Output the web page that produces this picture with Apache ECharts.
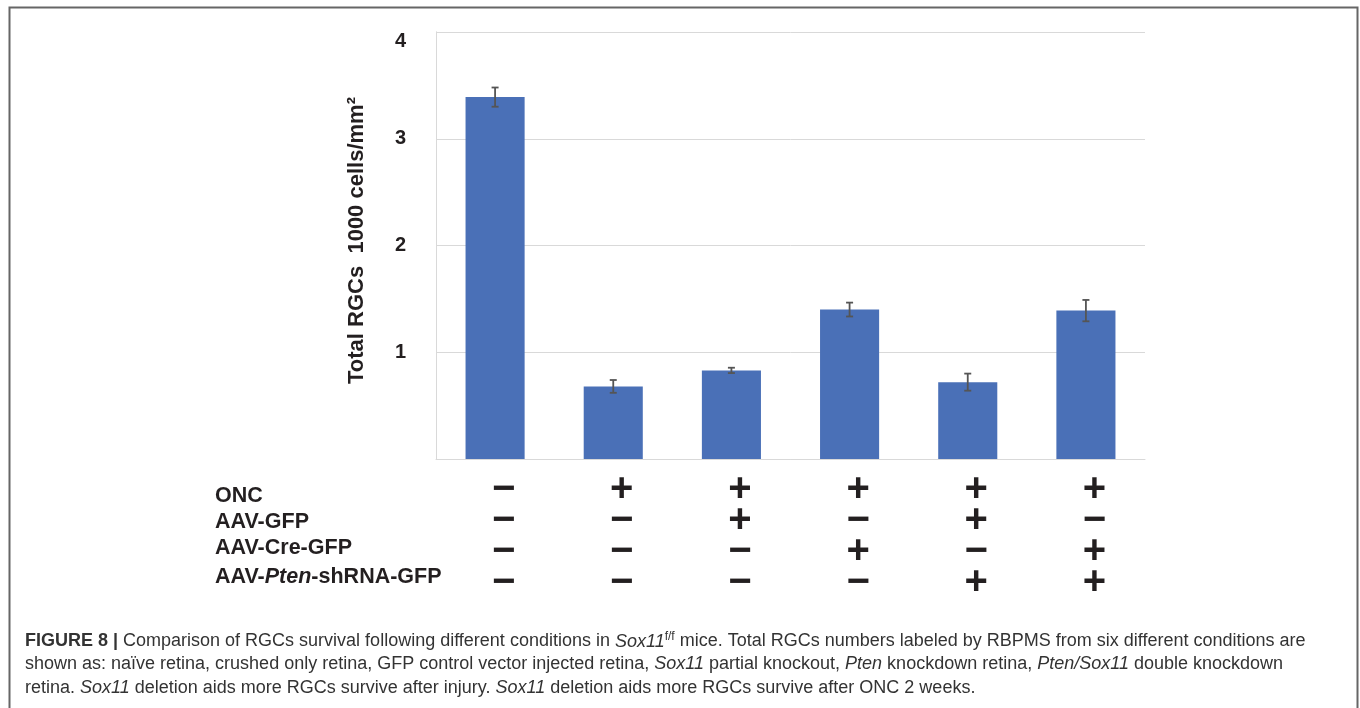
<!DOCTYPE html>
<html>
<head>
<meta charset="utf-8">
<title>Figure 8</title>
<script src="https://cdn.jsdelivr.net/npm/echarts@6/dist/echarts.min.js"></script>
<style>
  html, body { margin: 0; padding: 0; background: #fff; }
  #main { width: 1360px; height: 708px; }
</style>
</head>
<body>
<div id="main"></div>
<script type="text/javascript">
    // 数据
    var categories = ['naive', 'ONC', 'ONC GFP', 'ONC Cre', 'ONC GFP shPten', 'ONC Cre shPten'];
    var rgcMeans = [3.39, 0.68, 0.83, 1.40, 0.72, 1.39];
    var rgcErrors = [0.09, 0.06, 0.025, 0.065, 0.08, 0.10];
    var yTicks = [0, 1, 2, 3, 4];

    var rowNames = ['ONC', 'AAV-GFP', 'AAV-Cre-GFP', 'AAV-{i|Pten}-shRNA-GFP'];
    var rowOnc = ['−', '+', '+', '+', '+', '+'];
    var rowGfp = ['−', '−', '+', '−', '+', '−'];
    var rowCre = ['−', '−', '−', '+', '−', '+'];
    var rowPten = ['−', '−', '−', '−', '+', '+'];

    var captionLines = [
        '{b|FIGURE 8 |} Comparison of RGCs survival following different conditions in {i|Sox11}{sup|f/f} mice. Total RGCs numbers labeled by RBPMS from six different conditions are',
        'shown as: naïve retina, crushed only retina, GFP control vector injected retina, {i|Sox11} partial knockout, {i|Pten} knockdown retina, {i|Pten/Sox11} double knockdown',
        'retina. {i|Sox11} deletion aids more RGCs survive after injury. {i|Sox11} deletion aids more RGCs survive after ONC 2 weeks.'
    ];

    var font = "'Liberation Sans', Arial, Helvetica, sans-serif";

    var errData = [];
    for (var i = 0; i < rgcMeans.length; i++) {
        errData.push([i, rgcMeans[i] - rgcErrors[i], rgcMeans[i] + rgcErrors[i]]);
    }

    // 边框 + 行标题 + 图注
    var graphics = [{
        type: 'rect', left: 7, top: 5, silent: true,
        shape: { width: 1348, height: 720 },
        style: { fill: 'none', stroke: '#666', lineWidth: 2 }
    }];
    var rowY = [497, 523, 549, 578];
    rowNames.forEach(function (name, k) {
        graphics.push({
            type: 'text', left: 215, top: rowY[k] - 12,
            style: {
                text: name, fontFamily: font, fontSize: 21.5, fontWeight: 'bold', fill: '#231f20',
                rich: { i: { fontFamily: font, fontSize: 21.5, fontWeight: 'bold', fontStyle: 'italic', fill: '#231f20' } }
            }
        });
    });
    var capY = [641, 665, 689];
    captionLines.forEach(function (line, k) {
        graphics.push({
            type: 'text', left: 25, top: capY[k] - 10,
            style: {
                text: line, fontFamily: font, fontSize: 18, fill: '#333',
                rich: {
                    b: { fontFamily: font, fontSize: 18, fontWeight: 'bold', fill: '#333' },
                    i: { fontFamily: font, fontSize: 18, fontStyle: 'italic', fill: '#333' },
                    sup: { fontFamily: font, fontSize: 12, fill: '#333', verticalAlign: 'top', padding: [0, 0, 9, 0] }
                }
            }
        });
    });

    var myChart = echarts.init(document.getElementById('main'));
    var option = {
        animation: false,
        backgroundColor: '#fff',
        grid: { left: 436, right: 215, top: 32, bottom: 249 },
        xAxis: {
            type: 'category',
            data: categories,
            axisLine: { lineStyle: { color: '#d9d9d9', width: 1 } },
            axisTick: { show: false },
            axisLabel: {
                interval: 0,
                margin: 15,
                padding: [0, 0, 0, 17],
                fontFamily: font,
                fontSize: 40,
                fontWeight: 'bold',
                color: '#231f20',
                lineHeight: 31,
                formatter: function (value, idx) {
                    return [rowOnc[idx], rowGfp[idx], rowCre[idx], rowPten[idx]].join('\n');
                }
            }
        },
        yAxis: [{
            type: 'value',
            min: yTicks[0],
            max: yTicks[yTicks.length - 1],
            interval: 1,
            name: 'Total RGCs  1000 cells/mm²',
            nameLocation: 'middle',
            nameGap: 68,
            nameTextStyle: { fontFamily: font, fontSize: 22, fontWeight: 'bold', color: '#231f20', padding: [0, 0, 0, 10] },
            axisLine: { show: true, lineStyle: { color: '#d9d9d9' } },
            axisTick: { show: false },
            splitLine: { lineStyle: { color: '#d9d9d9', width: 1 } },
            axisLabel: {
                margin: 30,
                fontFamily: font,
                fontSize: 20,
                fontWeight: 'bold',
                color: '#231f20',
                formatter: function (v) {
                    if (v === 0) return '';
                    if (v === yTicks[yTicks.length - 1]) return '{top|' + v + '}';
                    return String(v);
                },
                rich: {
                    top: { fontFamily: font, fontSize: 20, fontWeight: 'bold', color: '#231f20', padding: [18, 0, 0, 0] }
                }
            }
        }, {
            type: 'value',
            min: 0,
            max: 4.065,
            position: 'left',
            axisLine: { show: true, lineStyle: { color: '#d9d9d9' } },
            axisTick: { show: false },
            axisLabel: { show: false },
            splitLine: { show: false }
        }],
        series: [{
            type: 'bar',
            data: rgcMeans,
            barWidth: '50%',
            itemStyle: { color: '#4a70b7' }
        }, {
            type: 'custom',
            data: errData,
            z: 5,
            renderItem: function (params, api) {
                var x = api.value(0);
                var lo = api.coord([x, api.value(1)]);
                var hi = api.coord([x, api.value(2)]);
                var half = 3.5;
                var st = { stroke: '#555', lineWidth: 1.8 };
                return {
                    type: 'group',
                    children: [
                        { type: 'line', shape: { x1: hi[0], y1: hi[1], x2: lo[0], y2: lo[1] }, style: st },
                        { type: 'line', shape: { x1: hi[0] - half, y1: hi[1], x2: hi[0] + half, y2: hi[1] }, style: st },
                        { type: 'line', shape: { x1: lo[0] - half, y1: lo[1], x2: lo[0] + half, y2: lo[1] }, style: st }
                    ]
                };
            }
        }],
        graphic: graphics
    };
    myChart.setOption(option);
</script>
</body>
</html>
